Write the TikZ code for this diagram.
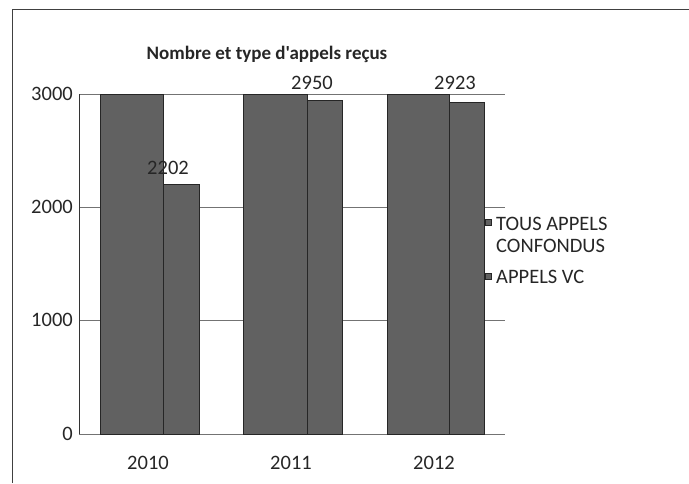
\documentclass[tikz,border=0pt]{standalone}
\usepackage{fontspec}
\setmainfont{Carlito}[Ligatures=TeXOff]
\begin{document}
\begin{tikzpicture}[x=1pt,y=-1pt,
  bar/.style={fill=black!62,draw=black!85,line width=0.6pt},
  grid/.style={draw=black!55,line width=0.6pt},
  lbl/.style={font=\fontsize{20.5}{22}\selectfont,inner sep=0pt,text=black!85},
  legsq/.style={fill=black!62,draw=black!85,line width=0.4pt,minimum size=6pt,inner sep=0pt}]
\useasboundingbox (0,0) rectangle (689,483);
% frame
\coordinate (fl) at (12,483);
\coordinate (ftl) at (12,9);
\coordinate (fr) at (689,9);
\draw[black!75,line width=0.7pt] (fl) -- (ftl) -- (fr);
% title
\node[lbl,font=\fontsize{19}{24}\selectfont\bfseries] (title) at (267,54) {Nombre et type d'appels reçus};
% gridlines
\foreach \v/\y in {0/434,1000/320,2000/207,3000/94}{
  \coordinate (gl\v) at (79,\y);
  \coordinate (gr\v) at (505,\y);
  \draw[grid] (gl\v) -- (gr\v);
  \node[lbl,anchor=east] (yl\v) at (73,\y) {\v};
}
\draw[grid,draw=black!80] (gl0) -- (gl3000);
% bars
\draw[bar] (100,434) rectangle (163,94);
\draw[bar] (163,434) rectangle (199,184.5);
\draw[bar] (243,434) rectangle (307,94);
\draw[bar] (307,434) rectangle (342,100);
\draw[bar] (387,434) rectangle (449,94);
\draw[bar] (449,434) rectangle (484,102.5);
% value labels
\node[lbl] (v2202) at (168,168) {2202};
\node[lbl] (v2950) at (312,83) {2950};
\node[lbl] (v2923) at (455,83) {2923};
% category labels
\node[lbl] (c2010) at (148,463) {2010};
\node[lbl] (c2011) at (291,463) {2011};
\node[lbl] (c2012) at (434,463) {2012};
% legend
\node[legsq] (sq1) at (488,222) {};
\node[legsq] (sq2) at (488,276) {};
\node[lbl,anchor=north west,align=left] (leg1) at (496,217) {TOUS APPELS\\CONFONDUS};
\node[lbl,anchor=west] (leg2) at (496,277) {APPELS VC};
\end{tikzpicture}
\end{document}
